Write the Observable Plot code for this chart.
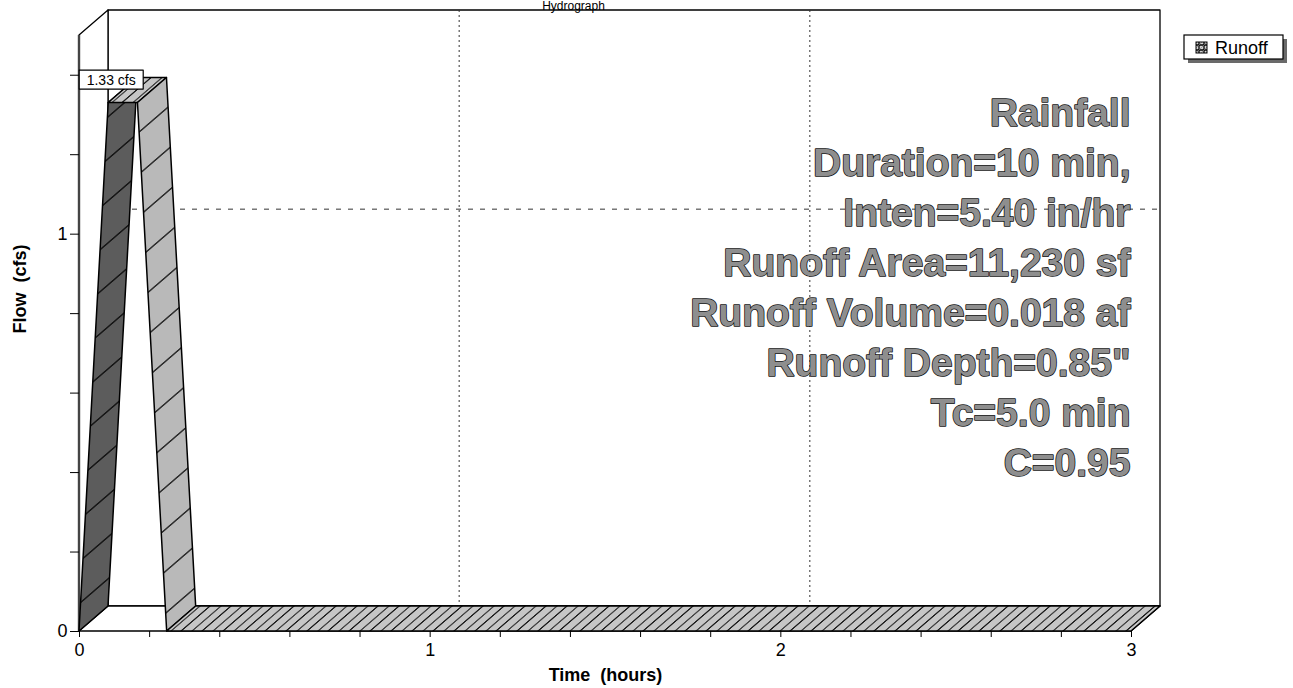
<!DOCTYPE html>
<html>
<head>
<meta charset="utf-8">
<script src="https://cdn.jsdelivr.net/npm/d3@7"></script>
<script src="https://cdn.jsdelivr.net/npm/@observablehq/plot@0.6"></script>
<style>
  html, body { margin: 0; padding: 0; background: #fff; }
  #chart { width: 1293px; height: 688px; overflow: hidden; }
  #chart svg { display: block; }
</style>
</head>
<body>
<div id="chart"></div>
<script>
// Runoff hydrograph: rational-method trapezoid (Tc = 5 min, duration = 10 min)
const timeHours = [0, 0.0833, 0.1667, 0.25, 3];
const flowCfs = [0, 1.33, 1.33, 0, 0];

// Axis ticks
const xTicks = [0, 0.2, 0.4, 0.6, 0.8, 1, 1.2, 1.4, 1.6, 1.8, 2, 2.2, 2.4, 2.6, 2.8, 3];
const xTickLabels = [0, 1, 2, 3];
const yTicks = [0, 0.2, 0.4, 0.6, 0.8, 1, 1.2, 1.4];
const yTickLabels = [0, 1];
const gridTimes = [1, 2];
const gridFlows = [1];

// Texts
const chartTitle = "Hydrograph";
const xLabel = "Time\u00a0 (hours)";
const yLabel = "Flow\u00a0 (cfs)";
const seriesName = "Runoff";
const peakUnit = "cfs";
const notes = [
  "Rainfall",
  "Duration=10 min,",
  "Inten=5.40 in/hr",
  "Runoff Area=11,230 sf",
  "Runoff Volume=0.018 af",
  "Runoff Depth=0.85\"",
  "Tc=5.0 min",
  "C=0.95"
];

const points = timeHours.map((t, i) => ({t, q: flowCfs[i]}));

// 3-D depth offset of the back plane, in pixels
const DX = 29, DY = -25;
const FONT = "'Liberation Sans', Arial, Helvetica, sans-serif";

// Hatch fills used by the ribbon faces and the legend swatch
function patternDefs(g) {
  const defs = g.append("defs");
  // sparse diagonal hatch for sloped faces
  const mk = (id, base, spacing) => {
    const p = defs.append("pattern").attr("id", id)
      .attr("patternUnits", "userSpaceOnUse")
      .attr("width", 200).attr("height", spacing)
      .attr("patternTransform", `skewY(${Math.atan(DY / DX) * 180 / Math.PI})`);
    p.append("rect").attr("width", 200).attr("height", spacing).attr("fill", base);
    p.append("line").attr("x1", 0).attr("x2", 200).attr("y1", spacing / 2).attr("y2", spacing / 2)
      .attr("stroke", "#000").attr("stroke-width", 1.6);
  };
  mk("hatchDark", "#5c5c5c", 84);
  mk("hatchLight", "#b9b9b9", 84);
  // dense diagonal hatch for flat faces
  const f = defs.append("pattern").attr("id", "hatchFlat")
    .attr("patternUnits", "userSpaceOnUse")
    .attr("width", 21).attr("height", 200)
    .attr("patternTransform", `skewX(${-Math.atan(DX / -DY) * 180 / Math.PI})`);
  f.append("rect").attr("width", 21).attr("height", 200).attr("fill", "#c6c6c6");
  f.append("line").attr("x1", 10).attr("x2", 10).attr("y1", 0).attr("y2", 200)
    .attr("stroke", "#000").attr("stroke-width", 1.7);
  const s = defs.append("pattern").attr("id", "hatchSwatch")
    .attr("patternUnits", "userSpaceOnUse").attr("width", 5).attr("height", 5);
  s.append("rect").attr("width", 5).attr("height", 5).attr("fill", "#d4d4d4");
  s.append("line").attr("x1", 0).attr("y1", 5).attr("x2", 5).attr("y2", 0)
    .attr("stroke", "#8a8a8a").attr("stroke-width", 0.7);
}

// Back wall, left wall and floor of the 3-D box
function box(index, scales, values, dims) {
  const L = dims.marginLeft, R = dims.width - dims.marginRight;
  const T = dims.marginTop, B = dims.height - dims.marginBottom;
  const g = d3.create("svg:g").attr("fill", "#fff").attr("stroke", "#000")
    .attr("stroke-width", 1.3).attr("stroke-linejoin", "round");
  patternDefs(g);
  g.append("rect").attr("x", L + DX).attr("y", T + DY)
    .attr("width", R - L).attr("height", B - T);
  g.append("path").attr("d", `M${L},${T}L${L + DX},${T + DY}L${L + DX},${B + DY}L${L},${B}Z`);
  g.append("path").attr("d", `M${L},${B}L${L + DX},${B + DY}L${R + DX},${B + DY}L${R},${B}Z`);
  g.append("line").attr("x1", L).attr("x2", L).attr("y1", T).attr("y2", B)
    .attr("stroke", "#444").attr("stroke-width", 2.4);
  return g.node();
}

// Extruded ribbon of the hydrograph, one face per segment
function ribbon(index, scales) {
  const {x, y} = scales;
  const g = d3.create("svg:g").attr("stroke", "#000").attr("stroke-width", 1.5)
    .attr("stroke-linejoin", "round");
  for (let i = 0; i < points.length - 1; ++i) {
    const a = points[i], b = points[i + 1];
    const ax = x(a.t), ay = y(a.q), bx = x(b.t), by = y(b.q);
    const fill = b.q > a.q ? "url(#hatchDark)" : b.q < a.q ? "url(#hatchLight)" : "url(#hatchFlat)";
    g.append("path")
      .attr("d", `M${ax},${ay}L${bx},${by}L${bx + DX},${by + DY}L${ax + DX},${ay + DY}Z`)
      .attr("fill", fill);
  }
  // peak value label
  const peak = d3.max(points, d => d.q);
  const pk = points.find(d => d.q === peak);
  const cx = x(pk.t) + 3, cy = y(peak) - 23;
  const lbl = g.append("g").attr("transform", `translate(${cx},${cy})`);
  lbl.append("rect").attr("x", -32).attr("y", -9.5).attr("width", 64).attr("height", 19)
    .attr("fill", "#fff").attr("stroke", "#000").attr("stroke-width", 1.2);
  lbl.append("text").attr("text-anchor", "middle").attr("dy", "0.36em")
    .attr("font-family", FONT).attr("font-size", 14).attr("stroke", "none").attr("fill", "#000")
    .text(`${peak} ${peakUnit}`);
  return g.node();
}

// Series legend at the upper right, with drop shadow
function legend(index, scales, values, dims) {
  const lx = dims.width - 109, ly = dims.marginTop;
  const g = d3.create("svg:g").attr("transform", `translate(${lx},${ly})`);
  g.append("rect").attr("x", 4).attr("y", 4).attr("width", 99).attr("height", 24).attr("fill", "#6a6a6a");
  g.append("rect").attr("width", 99).attr("height", 24).attr("fill", "#fff")
    .attr("stroke", "#000").attr("stroke-width", 1.2);
  g.append("rect").attr("x", 12).attr("y", 7).attr("width", 11).attr("height", 11)
    .attr("fill", "url(#hatchSwatch)").attr("stroke", "#000").attr("stroke-width", 1);
  g.append("text").attr("x", 31).attr("y", 18.5).attr("text-anchor", "start")
    .attr("font-family", FONT).attr("font-size", 18).attr("fill", "#000").text(seriesName);
  return g.node();
}

const chart = Plot.plot({
  width: 1293,
  height: 688,
  marginLeft: 79,
  marginRight: 162,
  marginTop: 35,
  marginBottom: 57,
  x: {domain: [0, 3]},
  y: {domain: [0, 1.5]},
  style: {fontFamily: FONT, fontSize: "18px", color: "#000", background: "#fff", overflow: "hidden"},
  marks: [
    box,
    Plot.ruleX(gridTimes, {dx: DX, dy: DY, stroke: "#333", strokeWidth: 1, strokeDasharray: "2,3"}),
    Plot.ruleY(gridFlows, {dx: DX, dy: DY, stroke: "#333", strokeWidth: 1, strokeDasharray: "5,7"}),
    Plot.text([notes.join("\n")], {
      frameAnchor: "top-right", lineAnchor: "top", lineHeight: 50 / 39, dx: -1, dy: 55,
      fontSize: 39, fontWeight: "bold", fill: "#8e8e8e", stroke: "#111", strokeWidth: 1.5
    }),
    ribbon,
    Plot.axisX(xTicks, {tickSize: 6, tickPadding: 6, fontSize: 18, label: null,
      tickFormat: d => xTickLabels.includes(d) ? String(d) : ""}),
    Plot.axisY(yTicks, {tickSize: 9, tickPadding: 3, fontSize: 18, label: null,
      tickFormat: d => yTickLabels.includes(d) ? String(d) : ""}),
    Plot.text([xLabel], {frameAnchor: "bottom", lineAnchor: "bottom", dy: 49, fontSize: 18, fontWeight: "bold"}),
    Plot.text([yLabel], {frameAnchor: "left", dx: -59, rotate: -90, fontSize: 18, fontWeight: "bold"}),
    Plot.text([chartTitle], {frameAnchor: "top", lineAnchor: "bottom", dx: -32, dy: -26, fontSize: 12}),
    legend
  ]
});

document.getElementById("chart").append(chart);
</script>
</body>
</html>
